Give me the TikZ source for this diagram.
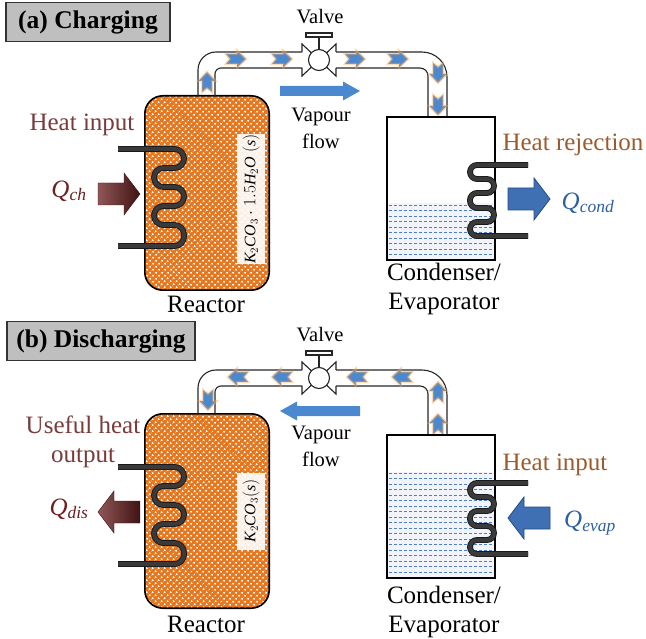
\documentclass[tikz,border=0pt]{standalone}
\usepackage{fontspec}
\setmainfont{Liberation Serif}
\usetikzlibrary{patterns.meta}

\definecolor{pellet}{HTML}{E5771F}
\definecolor{heatred}{HTML}{6B1F1F}
\definecolor{heattxt}{HTML}{7A3B3B}
\definecolor{rejtxt}{HTML}{9C5B2E}
\definecolor{flowblue}{HTML}{4A88D0}
\definecolor{coolblue}{HTML}{3F70B4}
\definecolor{qblue}{HTML}{2E5FA3}
\definecolor{water}{HTML}{4D7FC9}
\definecolor{coilgray}{HTML}{3A3A3A}

\tikzdeclarepattern{
  name=pellets, type=uncolored,
  bounding box={(-2pt,-2pt) and (2pt,2pt)},
  tile size={(4pt,4pt)},
  tile transformation={rotate=45},
  code={\fill (0pt,0pt) circle (1.15pt);}
}

\tikzset{
  txt/.style={font=\fontsize{25}{29}\selectfont, inner sep=0pt, align=center},
  smalltxt/.style={font=\fontsize{20.5}{27}\selectfont, inner sep=0pt, align=center},
  paneltitle/.style={draw=black!80, line width=1.2pt, fill=black!25,
    font=\fontsize{25.5}{30}\selectfont\bfseries, inner sep=0pt, minimum height=39pt},
  vessel/.style={draw=black, line width=1.6pt, inner sep=0pt},
  saltlabel/.style={fill=white, fill opacity=0.9, text opacity=1, inner sep=0pt,
    font=\fontsize{16}{18}\selectfont},
  pipe/.style={draw=black!85, line width=1.1pt, rounded corners=#1},
  coiltube/.style={draw=black!90, double=coilgray, double distance=4pt,
    line width=0.9pt, rounded corners=#1},
  flowtip/.pic={
    \filldraw[draw=orange!70, draw opacity=0.4, line width=2.4pt, fill=flowblue]
      (-10,-5) -- (1,-5) -- (1,-8.5) -- (10,0) -- (1,8.5) -- (1,5)
      -- (-10,5) -- (-6,0) -- cycle;},
  vapourarrow/.pic={
    \fill[flowblue] (-40,-5) -- (23,-5) -- (23,-9.5) -- (40,0) -- (23,9.5)
      -- (23,5) -- (-40,5) -- cycle;},
  redarrow/.pic={
    \shade[left color=heatred!75, right color=heatred!60!black, draw=heatred!50!black]
      (-21,-11) -- (5,-11) -- (5,-21) -- (21,0) -- (5,21) -- (5,11)
      -- (-21,11) -- cycle;},
  bluearrow/.pic={
    \filldraw[fill=coolblue, draw=qblue!80!black, line width=0.8pt]
      (-21,-11) -- (5,-11) -- (5,-21) -- (21,0) -- (5,21) -- (5,11)
      -- (-21,11) -- cycle;}
}

\begin{document}
\begin{tikzpicture}[x=1pt, y=-1pt]
  \useasboundingbox (0,0) rectangle (646,639);

  % (a) charging
  \node[paneltitle, minimum width=164pt] (ttla) at (88,22) {(a) Charging};

  \node[inner sep=0pt, fill=pellet, rounded corners=18pt,
        minimum width=124pt, minimum height=194pt] (reaca) at (207,193) {};
  \fill[pattern=pellets, pattern color=white, rounded corners=18pt]
    (reaca.south west) rectangle (reaca.north east);
  \draw[vessel, rounded corners=18pt] (reaca.south west) rectangle (reaca.north east);
  \node[saltlabel, rotate=90, minimum width=130pt, minimum height=28pt] (salta)
    at (251,199) {$\mathit{K}_2\mathit{CO}_3\cdot1.5\mathit{H}_2\mathit{O}\ (\mathit{s})$};
  \node[txt] (reacta) at (206,304) {Reactor};

  \draw[coiltube=9.5pt] (118,149) -- (184,149) -- (184,168) -- (154,168) -- (154,187)
    -- (184,187) -- (184,206) -- (154,206) -- (154,225) -- (184,225) -- (184,246) -- (118,246);
  \pic at (119,194) {redarrow};
  \node[txt, text=heattxt] (hina) at (82,125) {Heat input};
  \node[txt, text=heatred] (qcha) at (69,191) {$\mathit{Q}_{\mathit{ch}}$};

  \draw[pipe=18pt] (198,96) -- (198,52) -- (302,52);
  \draw[pipe=6pt] (215,96) -- (215,68) -- (302,68);
  \draw[pipe=0pt] (302,52) -- (302,44) -- (319,60) -- (302,76) -- (302,68);
  \draw[pipe=0pt] (336,52) -- (336,44) -- (319,60) -- (336,76) -- (336,68);
  \draw[pipe=25pt] (336,52) -- (447,52) -- (447,117);
  \draw[pipe=8pt] (336,68) -- (428,68) -- (428,117);
  \node[draw=black!85, line width=1.1pt, circle, fill=white, minimum size=21pt,
        inner sep=0pt] (vlva) at (319,60) {};
  \draw[line width=1.1pt, black!85] (vlva.north) -- (319,37);
  \draw[line width=1.1pt, black!85, fill=white] (306,33) rectangle (332,37);
  \node[smalltxt] (vtxa) at (320,17) {Valve};

  \pic[rotate=90] at (207,82) {flowtip};
  \pic at (236,59) {flowtip};
  \pic at (282,59) {flowtip};
  \pic at (355,59) {flowtip};
  \pic at (398,59) {flowtip};
  \pic[rotate=-90] at (438,73) {flowtip};
  \pic[rotate=-90] at (438,105) {flowtip};

  \pic at (320,91) {vapourarrow};
  \node[smalltxt] (vfla) at (321,128) {Vapour\\flow};

  \fill[water!8] (387,203) rectangle (495,260);
  \foreach \y in {205,210.5,...,259}
    \draw[water, line width=0.7pt, dash pattern=on 3pt off 2pt] (389,\y) -- (494,\y);
  \node[vessel, minimum width=108pt, minimum height=143pt] (conda) at (441,188.5) {};
  \draw[coiltube=7pt] (528,165) -- (470,165) -- (470,179) -- (494,179) -- (494,193)
    -- (470,193) -- (470,208) -- (494,208) -- (494,222) -- (470,222) -- (470,236) -- (528,236);
  \pic at (529,199) {bluearrow};
  \node[txt, text=rejtxt] (hrja) at (573,145) {Heat rejection};
  \node[txt, text=qblue] (qcda) at (588,203) {$\mathit{Q}_{\mathit{cond}}$};
  \node[txt] (cevpa) at (444,289) {Condenser/\\Evaporator};

  % (b) discharging
  \begin{scope}[shift={(0,318)}]
  \node[paneltitle, minimum width=188pt] (ttlb) at (101,23) {(b) Discharging};

  \node[inner sep=0pt, fill=pellet, rounded corners=18pt,
        minimum width=124pt, minimum height=194pt] (reacb) at (207,193) {};
  \fill[pattern=pellets, pattern color=white, rounded corners=18pt]
    (reacb.south west) rectangle (reacb.north east);
  \draw[vessel, rounded corners=18pt] (reacb.south west) rectangle (reacb.north east);
  \node[saltlabel, rotate=90, minimum width=77pt, minimum height=28pt] (saltb)
    at (251,193) {$\mathit{K}_2\mathit{CO}_3(\mathit{s})$};
  \node[txt] (reactb) at (206,306) {Reactor};

  \draw[coiltube=9.5pt] (118,149) -- (184,149) -- (184,168) -- (154,168) -- (154,187)
    -- (184,187) -- (184,206) -- (154,206) -- (154,225) -- (184,225) -- (184,246) -- (118,246);
  \pic[rotate=180] at (119,194) {redarrow};
  \node[txt, text=heattxt] (uhob) at (83,124) {Useful heat\\output};
  \node[txt, text=heatred] (qdsb) at (69,191) {$\mathit{Q}_{\mathit{dis}}$};

  \draw[pipe=18pt] (198,96) -- (198,52) -- (302,52);
  \draw[pipe=6pt] (215,96) -- (215,68) -- (302,68);
  \draw[pipe=0pt] (302,52) -- (302,44) -- (319,60) -- (302,76) -- (302,68);
  \draw[pipe=0pt] (336,52) -- (336,44) -- (319,60) -- (336,76) -- (336,68);
  \draw[pipe=25pt] (336,52) -- (447,52) -- (447,117);
  \draw[pipe=8pt] (336,68) -- (428,68) -- (428,117);
  \node[draw=black!85, line width=1.1pt, circle, fill=white, minimum size=21pt,
        inner sep=0pt] (vlvb) at (319,60) {};
  \draw[line width=1.1pt, black!85] (vlvb.north) -- (319,37);
  \draw[line width=1.1pt, black!85, fill=white] (306,33) rectangle (332,37);
  \node[smalltxt] (vtxb) at (320,17) {Valve};

  \pic[rotate=-90] at (208,82) {flowtip};
  \pic[rotate=180] at (238,59) {flowtip};
  \pic[rotate=180] at (282,59) {flowtip};
  \pic[rotate=180] at (357,59) {flowtip};
  \pic[rotate=180] at (402,59) {flowtip};
  \pic[rotate=90] at (438,74) {flowtip};
  \pic[rotate=90] at (438,106) {flowtip};

  \pic[rotate=180] at (320,93) {vapourarrow};
  \node[smalltxt] (vflb) at (321,128) {Vapour\\flow};

  \fill[water!8] (387,154) rectangle (495,260);
  \foreach \y in {155,160.5,...,259}
    \draw[water, line width=0.7pt, dash pattern=on 3pt off 2pt] (389,\y) -- (494,\y);
  \node[vessel, minimum width=108pt, minimum height=143pt] (condb) at (441,188.5) {};
  \draw[coiltube=7pt] (528,165) -- (470,165) -- (470,179) -- (494,179) -- (494,193)
    -- (470,193) -- (470,208) -- (494,208) -- (494,222) -- (470,222) -- (470,236) -- (528,236);
  \pic[rotate=180] at (529,200) {bluearrow};
  \node[txt, text=rejtxt] (hinb) at (555,147) {Heat input};
  \node[txt, text=qblue] (qevb) at (590,205) {$\mathit{Q}_{\mathit{evap}}$};
  \node[txt] (cevpb) at (444,294) {Condenser/\\Evaporator};
  \end{scope}
\end{tikzpicture}
\end{document}
